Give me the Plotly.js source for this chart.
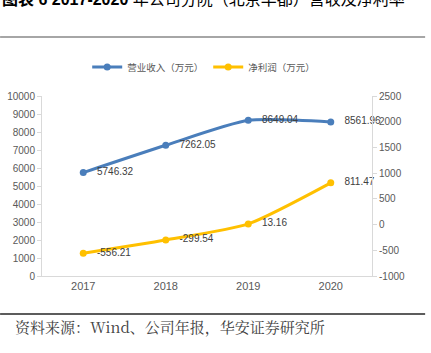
<!DOCTYPE html>
<html><head><meta charset="utf-8">
<script src="https://cdn.plot.ly/plotly-3.0.1.min.js"></script>
<style>html,body{margin:0;padding:0;background:#fff;}#chart{width:431px;height:353px;}</style>
</head><body><div id="chart"></div>
<script>
const years = ['2017', '2018', '2019', '2020'];
const revenue = [5746.32, 7262.05, 8649.04, 8561.96];
const netProfit = [-556.21, -299.54, 13.16, 811.47];
const revenueName = '营业收入（万元）';
const profitName = '净利润（万元）';
const leftTicks = [0,1000,2000,3000,4000,5000,6000,7000,8000,9000,10000];
const rightTicks = [-1000,-500,0,500,1000,1500,2000,2500];
const titleText = '<b>图表 6 2017-2020</b> 年公司分院（北京华都）营收及净利率';
const sourceText = '资料来源：Wind、公司年报，华安证券研究所';

const fontCJK = '"Liberation Sans", Arial, "Noto Sans CJK SC", sans-serif';

const traces = [
  {x: years, y: revenue, name: revenueName, type: 'scatter', mode: 'lines+markers+text',
   line: {color: '#4A7EBB', width: 3, shape: 'spline', smoothing: 0.6},
   marker: {color: '#4A7EBB', size: 7},
   text: revenue.map(v => '   ' + v.toFixed(2)), textposition: 'middle right',
   textfont: {size: 10, color: '#404040', family: fontCJK}, cliponaxis: false},
  {x: years, y: netProfit, name: profitName, type: 'scatter', mode: 'lines+markers+text', yaxis: 'y2',
   line: {color: '#FFC000', width: 3, shape: 'spline', smoothing: 0.6},
   marker: {color: '#FFC000', size: 7},
   text: netProfit.map(v => '   ' + v.toFixed(2)), textposition: 'middle right',
   textfont: {size: 10, color: '#404040', family: fontCJK}, cliponaxis: false}
];

const layout = {
  width: 431, height: 353,
  margin: {l: 42, r: 59, t: 96, b: 77},
  paper_bgcolor: '#fff', plot_bgcolor: '#fff',
  font: {family: fontCJK, color: '#595959', size: 10},
  showlegend: true,
  legend: {orientation: 'h', x: 0.49, xanchor: 'center', y: 1.161, yanchor: 'middle',
           font: {size: 9.5, color: '#595959'}, itemwidth: 30, tracegroupgap: 0},
  xaxis: {type: 'category', range: [-0.5, 3.5], showgrid: false, zeroline: false, showline: true, linecolor: '#D9D9D9', linewidth: 1,
          ticks: '', tickfont: {size: 11, color: '#595959'}, fixedrange: true},
  yaxis: {range: [0, 10000], tickvals: leftTicks, ticktext: leftTicks.map(String), showgrid: false, zeroline: false, showline: true,
          linecolor: '#D9D9D9', linewidth: 1, ticks: 'outside', ticklen: 4, tickcolor: '#D9D9D9',
          tickfont: {size: 10, color: '#595959'}},
  yaxis2: {range: [-1000, 2500], tickvals: rightTicks, ticktext: rightTicks.map(String), overlaying: 'y', side: 'right', showgrid: false,
           zeroline: false, showline: true, linecolor: '#D9D9D9', linewidth: 1, ticks: 'outside', ticklen: 4,
           tickcolor: '#D9D9D9', tickfont: {size: 10, color: '#595959'}},
  shapes: [
    {type: 'line', xref: 'paper', yref: 'paper', x0: -0.127, x1: 1.161, y0: 1.328, y1: 1.328,
     line: {color: '#A6A6A6', width: 2}},
    {type: 'line', xref: 'paper', yref: 'paper', x0: -0.127, x1: 1.161, y0: -0.211, y1: -0.211,
     line: {color: '#262626', width: 1.5}}
  ],
  annotations: [
    {text: titleText, xref: 'paper', yref: 'paper', x: -0.127, xanchor: 'left', y: 1.535, yanchor: 'middle',
     showarrow: false, font: {size: 16, color: '#000', family: '"Liberation Sans", Arial, "Noto Sans CJK SC", sans-serif'}},
    {text: sourceText, xref: 'paper', yref: 'paper', x: -0.088, xanchor: 'left', y: -0.278, yanchor: 'middle',
     showarrow: false, font: {size: 15, color: '#404040', family: '"Noto Serif CJK SC", "Noto Sans CJK SC", sans-serif'}}
  ]
};
Plotly.newPlot('chart', traces, layout, {displayModeBar: false, staticPlot: true});
</script></body></html>
